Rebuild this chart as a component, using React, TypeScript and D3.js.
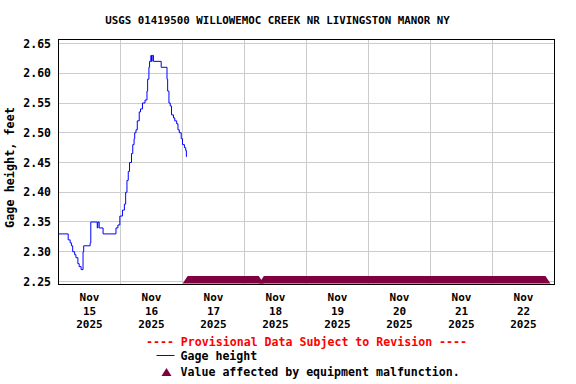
import React, { useEffect, useRef } from "react";
import * as d3 from "d3";

const title = "USGS 01419500 WILLOWEMOC CREEK NR LIVINGSTON MANOR NY";
const yLabel = "Gage height, feet";
const yTicks = [2.25, 2.3, 2.35, 2.4, 2.45, 2.5, 2.55, 2.6, 2.65];
const labelDays = ["2025-11-15", "2025-11-16", "2025-11-17", "2025-11-18", "2025-11-19", "2025-11-20", "2025-11-21", "2025-11-22"];
const gridDays = ["2025-11-16", "2025-11-17", "2025-11-18", "2025-11-19", "2025-11-20", "2025-11-21", "2025-11-22"];

// gage height readings (step changes)
const times = [
  "2025-11-15 00:00", "2025-11-15 03:45", "2025-11-15 04:30", "2025-11-15 05:00", "2025-11-15 05:30",
  "2025-11-15 06:15", "2025-11-15 06:45", "2025-11-15 07:30", "2025-11-15 08:00", "2025-11-15 08:45",
  "2025-11-15 09:30", "2025-11-15 09:45", "2025-11-15 12:15", "2025-11-15 12:30", "2025-11-15 15:00",
  "2025-11-15 15:15", "2025-11-15 15:45", "2025-11-15 17:15", "2025-11-15 22:15", "2025-11-15 23:00",
  "2025-11-15 23:45", "2025-11-16 00:45", "2025-11-16 01:30", "2025-11-16 02:00", "2025-11-16 02:30",
  "2025-11-16 03:00", "2025-11-16 03:30", "2025-11-16 04:15", "2025-11-16 04:45", "2025-11-16 05:15",
  "2025-11-16 05:30", "2025-11-16 06:00", "2025-11-16 06:30", "2025-11-16 07:15", "2025-11-16 07:45",
  "2025-11-16 08:30", "2025-11-16 09:30", "2025-11-16 10:15", "2025-11-16 10:30", "2025-11-16 11:00",
  "2025-11-16 11:15", "2025-11-16 11:45", "2025-11-16 12:00", "2025-11-16 12:15", "2025-11-16 12:45",
  "2025-11-16 15:45", "2025-11-16 18:00", "2025-11-16 18:15", "2025-11-16 18:45", "2025-11-16 19:15",
  "2025-11-16 19:45", "2025-11-16 20:30", "2025-11-16 21:00", "2025-11-16 21:45", "2025-11-16 22:15",
  "2025-11-16 22:45", "2025-11-16 23:30", "2025-11-17 00:00", "2025-11-17 00:45", "2025-11-17 01:15",
  "2025-11-17 01:30", "2025-11-17 01:45",
];
const heights = [
  2.33, 2.32, 2.315, 2.31, 2.3,
  2.295, 2.29, 2.28, 2.275, 2.27,
  2.3, 2.31, 2.315, 2.35, 2.34,
  2.35, 2.34, 2.33, 2.34, 2.345,
  2.36, 2.37, 2.38, 2.4, 2.42,
  2.435, 2.45, 2.465, 2.48, 2.49,
  2.5, 2.505, 2.52, 2.535, 2.54,
  2.55, 2.555, 2.57, 2.59, 2.61,
  2.62, 2.63, 2.62, 2.63, 2.62,
  2.61, 2.59, 2.57, 2.55, 2.545,
  2.53, 2.525, 2.52, 2.515, 2.505,
  2.5, 2.49, 2.48, 2.475, 2.47,
  2.46, 2.46,
];

// periods flagged "equipment malfunction"
const malfunctionStart = ["2025-11-17 02:00", "2025-11-18 07:30"];
const malfunctionEnd = ["2025-11-18 05:30", "2025-11-22 20:30"];

const FONT = "'DejaVu Sans Mono', monospace";

function App() {
  const ref = useRef<SVGSVGElement>(null);

  useEffect(() => {
    const width = 576,
      height = 384,
      left = 58.5,
      right = 554.5,
      top = 39.5,
      bottom = 284.5;

    const parse = d3.timeParse("%Y-%m-%d %H:%M");
    const parseDay = d3.timeParse("%Y-%m-%d");

    const svg = d3.select(ref.current).attr("width", width).attr("height", height);
    svg.selectAll("*").remove();

    const xScale = d3.scaleTime().domain([parseDay("2025-11-15")!, parseDay("2025-11-23")!]).range([left, right]);
    const yScale = d3.scaleLinear().domain([2.25, 2.65]).range([281.5, 43.5]);

    svg.append("rect").attr("width", width).attr("height", height).attr("fill", "#ffffff");

    // gridlines
    svg.append("g").selectAll("line").data(yTicks).join("line")
      .attr("x1", left + 0.5).attr("x2", right - 0.5)
      .attr("y1", (d) => Math.round(yScale(d) - 0.5) + 0.5).attr("y2", (d) => Math.round(yScale(d) - 0.5) + 0.5)
      .attr("stroke", "#cccccc").attr("stroke-width", 1);
    svg.append("g").selectAll("line").data(gridDays).join("line")
      .attr("x1", (d) => Math.round(xScale(parseDay(d)!) - 0.5) + 0.5).attr("x2", (d) => Math.round(xScale(parseDay(d)!) - 0.5) + 0.5)
      .attr("y1", top + 0.5).attr("y2", bottom - 0.5)
      .attr("stroke", "#cccccc").attr("stroke-width", 1);

    // gage height line
    const series = times.map((t, i) => ({ t: parse(t)!, v: heights[i] }));
    const line = d3.line<{ t: Date; v: number }>().x((d) => xScale(d.t)).y((d) => yScale(d.v)).curve(d3.curveStepAfter);
    svg.append("path").datum(series).attr("d", line).attr("fill", "none").attr("stroke", "#0000ff").attr("stroke-width", 1);

    // equipment malfunction markers along the bottom
    const base = bottom - 1;
    svg.append("g").selectAll("path").data(malfunctionStart).join("path")
      .attr("d", (d, i) => {
        const x0 = xScale(parse(d)!), x1 = xScale(parse(malfunctionEnd[i])!);
        return `M${x0 - 5},${base}L${x0},${base - 7.5}L${x1},${base - 7.5}L${x1 + 5},${base}Z`;
      })
      .attr("fill", "#800040");

    // frame
    svg.append("rect").attr("x", left).attr("y", top).attr("width", right - left).attr("height", bottom - top)
      .attr("fill", "none").attr("stroke", "#000000").attr("stroke-width", 1);

    // y axis labels
    svg.append("g").selectAll("text").data(yTicks).join("text")
      .attr("x", 51).attr("y", (d) => yScale(d) + 4.2)
      .attr("text-anchor", "end").style("font-family", FONT).style("font-weight", "bold").style("font-size", "11.5px")
      .text((d) => d3.format(".2f")(d));

    // x axis labels
    const xl = svg.append("g").selectAll("text").data(labelDays).join("text")
      .attr("text-anchor", "middle").style("font-family", FONT).style("font-weight", "bold").style("font-size", "11px");
    const fmt = [d3.timeFormat("%b"), d3.timeFormat("%-d"), d3.timeFormat("%Y")];
    fmt.forEach((f, k) => {
      xl.append("tspan").attr("x", (d) => xScale(d3.timeHour.offset(parseDay(d)!, 12)))
        .attr("y", 301 + k * 13.5).text((d) => f(parseDay(d)!));
    });

    // title
    svg.append("text").attr("x", 277.5).attr("y", 24).attr("text-anchor", "middle")
      .style("font-family", FONT).style("font-weight", "bold").style("font-size", "10.8px").text(title);

    // y label
    svg.append("text").attr("transform", "translate(14,167.5) rotate(-90)").attr("text-anchor", "middle")
      .style("font-family", FONT).style("font-weight", "bold").style("font-size", "11.8px").text(yLabel);

    // legend
    const cx = (left + right) / 2;
    svg.append("text").attr("x", cx).attr("y", 346).attr("text-anchor", "middle").attr("fill", "#ff0000")
      .style("font-family", FONT).style("font-weight", "bold").style("font-size", "11.6px")
      .text("---- Provisional Data Subject to Revision ----");
    svg.append("line").attr("x1", 156.5).attr("x2", 174.5).attr("y1", 355.5).attr("y2", 355.5).attr("stroke", "#0000ff");
    svg.append("text").attr("x", 180.5).attr("y", 359.5)
      .style("font-family", FONT).style("font-weight", "bold").style("font-size", "11.6px").text("Gage height");
    svg.append("path").attr("d", "M161.5,376L166.5,368L171.5,376Z").attr("fill", "#800040");
    svg.append("text").attr("x", 180.5).attr("y", 375.5)
      .style("font-family", FONT).style("font-weight", "bold").style("font-size", "11.6px")
      .text("Value affected by equipment malfunction.");
  }, []);

  return (
    <div>
      <svg ref={ref} style={{ position: "absolute", left: 0, top: 0 }}></svg>
    </div>
  );
}

export default App;
